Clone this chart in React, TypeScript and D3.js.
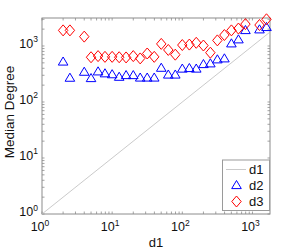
import React, { useRef, useEffect } from 'react';
import * as d3 from 'd3';

// d1 bin centres (log spaced) and median degree of the two other series
const d1Values = [2.0, 2.5, 4.0, 5.0, 6.3, 7.9, 10, 12.6, 15.8, 20, 25.1, 31.6, 39.8, 50.1, 63.1, 79.4,
  100, 126, 158, 200, 251, 316, 398, 501, 631, 794, 1259, 1585];
const d2Values = [529, 272, 348, 268, 353, 326, 314, 283, 303, 303, 274, 274, 274, 410, 310, 310,
  396, 405, 396, 477, 491, 579, 603, 1117, 1318, 1931, 1987, 2187];
const d3Values = [1900, 1900, 1470, 630, 660, 640, 640, 630, 625, 660, 600, 735, 640, 1090, 850, 700,
  1040, 1060, 1140, 1020, 760, 1260, 1570, 1900, 2050, 2460, 2370, 3000];
const diagonal = [1, 1778];
const xDomain = [1, 1778];
const yDomain = [1, 3162];
const decadeTicks = [1, 10, 100, 1000];
const legendLabels = ['d1', 'd2', 'd3'];

const FONT = '"Liberation Sans", Arial, Helvetica, sans-serif';

export default function App() {
  const ref = useRef<SVGSVGElement>(null);

  useEffect(() => {
    const svg = d3.select(ref.current);
    svg.selectAll('*').remove();

    const left = 42, right = 270, top = 18, bottom = 214;
    const axisColor = '#8c8c8c';

    const x = d3.scaleLog().domain(xDomain).range([left, right]);
    const y = d3.scaleLog().domain(yDomain).range([bottom, top]);

    // box
    svg.append('rect')
      .attr('x', left).attr('y', top)
      .attr('width', right - left).attr('height', bottom - top)
      .attr('fill', 'white').attr('stroke', axisColor).attr('stroke-width', 1);

    // ticks on all four sides, pointing inward
    const tl = 2.5;
    const g = svg.append('g').attr('stroke', axisColor).attr('stroke-width', 0.8);
    x.ticks().filter(t => t >= xDomain[0] && t <= xDomain[1]).forEach(t => {
      const px = x(t);
      g.append('line').attr('x1', px).attr('x2', px).attr('y1', bottom).attr('y2', bottom - tl);
      g.append('line').attr('x1', px).attr('x2', px).attr('y1', top).attr('y2', top + tl);
    });
    y.ticks().filter(t => t >= yDomain[0] && t <= yDomain[1]).forEach(t => {
      const py = y(t);
      g.append('line').attr('y1', py).attr('y2', py).attr('x1', left).attr('x2', left + tl);
      g.append('line').attr('y1', py).attr('y2', py).attr('x1', right).attr('x2', right - tl);
    });

    // tick labels 10^n
    decadeTicks.forEach((t, i) => {
      const tx = svg.append('text')
        .attr('x', x(t) - 2).attr('y', bottom + 17)
        .attr('text-anchor', 'middle')
        .style('font-family', FONT).style('font-size', '12.5px').attr('fill', '#111');
      tx.append('tspan').text('10');
      tx.append('tspan').attr('dy', -5.5).style('font-size', '8.5px').text(String(i));

      const ty = svg.append('text')
        .attr('x', left - 4).attr('y', y(t) + 2)
        .attr('text-anchor', 'end')
        .style('font-family', FONT).style('font-size', '12.5px').attr('fill', '#111');
      ty.append('tspan').text('10');
      ty.append('tspan').attr('dy', -5.5).style('font-size', '8.5px').text(String(i));
    });

    // axis titles
    svg.append('text')
      .attr('x', (left + right) / 2).attr('y', 246.5)
      .attr('text-anchor', 'middle')
      .style('font-family', FONT).style('font-size', '13px').attr('fill', '#111')
      .text('d1');
    svg.append('text')
      .attr('transform', `translate(14,112) rotate(-90)`)
      .attr('text-anchor', 'middle')
      .style('font-family', FONT).style('font-size', '13.5px').attr('fill', '#111')
      .text('Median Degree');

    // diagonal d1
    const line = d3.line<number>().x(d => x(d)).y(d => y(d));
    svg.append('path')
      .attr('d', line(diagonal))
      .attr('fill', 'none').attr('stroke', '#bdbdbd').attr('stroke-width', 0.8);

    const triangle = 'M0,-4.5L4.8,3.6L-4.8,3.6Z';
    const diamond = 'M0,-5.5L4.7,0L0,5.5L-4.7,0Z';

    svg.append('g').selectAll('path')
      .data(d1Values)
      .enter().append('path')
      .attr('d', triangle)
      .attr('transform', (d, i) => `translate(${x(d)},${y(d2Values[i])})`)
      .attr('fill', 'none').attr('stroke', '#0000ff').attr('stroke-width', 1);

    svg.append('g').selectAll('path')
      .data(d1Values)
      .enter().append('path')
      .attr('d', diamond)
      .attr('transform', (d, i) => `translate(${x(d)},${y(d3Values[i])})`)
      .attr('fill', 'none').attr('stroke', '#ff0000').attr('stroke-width', 1);

    // legend
    const lg = svg.append('g');
    lg.append('rect')
      .attr('x', 222.5).attr('y', 160).attr('width', 47).attr('height', 50.5)
      .attr('fill', 'white').attr('stroke', '#9a9a9a').attr('stroke-width', 1);
    const rowY = [169.5, 185, 201.5];
    lg.append('line')
      .attr('x1', 226).attr('x2', 246).attr('y1', rowY[0]).attr('y2', rowY[0])
      .attr('stroke', '#bdbdbd').attr('stroke-width', 0.8);
    lg.append('path').attr('d', triangle).attr('transform', `translate(236.5,${rowY[1]})`)
      .attr('fill', 'none').attr('stroke', '#0000ff').attr('stroke-width', 1);
    lg.append('path').attr('d', diamond).attr('transform', `translate(236.5,${rowY[2]})`)
      .attr('fill', 'none').attr('stroke', '#ff0000').attr('stroke-width', 1);
    legendLabels.forEach((lab, i) => {
      lg.append('text')
        .attr('x', 249).attr('y', rowY[i] + 4.5)
        .style('font-family', FONT).style('font-size', '13px').attr('fill', '#111')
        .text(lab);
    });
  }, []);

  return (
    <svg ref={ref} width={299} height={250}
      style={{ position: 'absolute', left: 0, top: 0, background: 'white' }} />
  );
}
